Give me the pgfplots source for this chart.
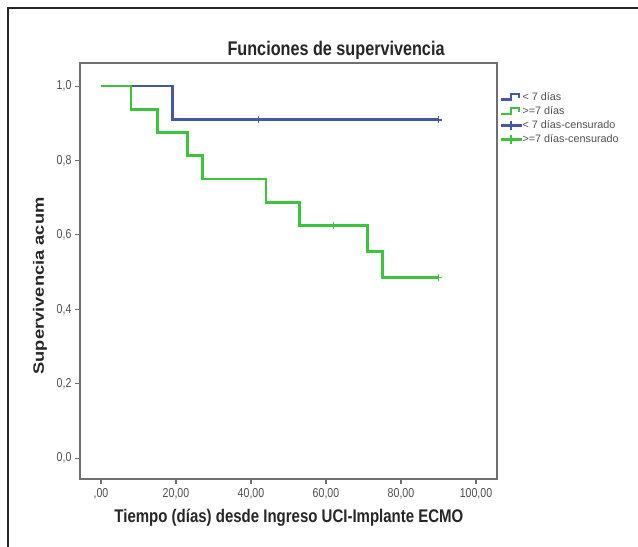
\documentclass[border=0pt]{standalone}
\usepackage{fontspec}
\setmainfont{Liberation Sans}
\usepackage{pgfplots}
\pgfplotsset{compat=1.18}

\definecolor{kmblue}{RGB}{68,88,168}
\definecolor{kmgreen}{RGB}{60,196,60}
\definecolor{axgray}{RGB}{112,112,112}
\definecolor{txtgray}{RGB}{80,80,80}

% Kaplan-Meier estimates (time in days, cumulative survival)
\pgfplotstableread{
t    s
0    1.0000
19   0.9091
90   0.9091
}\menosSiete
\pgfplotstableread{
t    s
0    1.0000
8    0.9375
15   0.8750
23   0.8125
27   0.7500
44   0.6875
53   0.6250
71   0.5556
75   0.4861
90   0.4861
}\masSiete
% censored observations
\pgfplotstableread{
t    s
42   0.9091
90   0.9091
}\menosSieteCens
\pgfplotstableread{
t    s
62   0.6250
90   0.4861
}\masSieteCens

\begin{document}
\begin{tikzpicture}
\useasboundingbox (0bp,0bp) rectangle (638bp,547bp);
\draw[line width=2bp, black!85] (8bp,-20bp) -- (8bp,539bp) -- (660bp,539bp);
\begin{axis}[
  at={(80bp,68bp)}, anchor=south west,
  scale only axis, width=417bp, height=416bp,
  xmin=-5.6, xmax=105.6, ymin=-0.056, ymax=1.062,
  axis line style={axgray, line width=1.4bp},
  tick align=outside, tick pos=left,
  major tick length=5bp,
  tick style={axgray, line width=1.1bp},
  xtick={0,20,40,60,80,100},
  xticklabels={{,00},{20,00},{40,00},{60,00},{80,00},{100,00}},
  ytick={0,0.2,0.4,0.6,0.8,1},
  yticklabels={{0,0},{0,2},{0,4},{0,6},{0,8},{1,0}},
  ticklabel style={font=\fontsize{10.6bp}{12bp}\selectfont, text=txtgray, yscale=1.22},
  title={Funciones de supervivencia},
  title style={at={(0.614,1.016)}, anchor=center,
    font=\bfseries\fontsize{16.2bp}{18bp}\selectfont, text=black!85, yscale=1.22},
  xlabel={Tiempo (días) desde Ingreso UCI-Implante ECMO},
  xlabel style={at={(0.501,-0.094)}, anchor=center,
    font=\bfseries\fontsize{15bp}{17bp}\selectfont, text=black!85, yscale=1.22},
  ylabel={Supervivencia acum},
  ylabel style={at={(-0.096,0.464)}, anchor=center,
    font=\bfseries\fontsize{15bp}{17bp}\selectfont, text=black!85, xscale=1.22},
  legend cell align=left,
  legend style={at={(1.007,0.932)}, anchor=north west, draw=none, fill=none,
    font=\fontsize{10.8bp}{12bp}\selectfont,
    inner sep=0pt, row sep=3bp,
    nodes={inner sep=0.6bp, text height=8bp, text depth=2bp}},
]
\addplot[const plot, kmblue, line width=2.8bp,
  legend image code/.code={\draw[kmblue, line width=2.3bp]
    (0bp,-2.5bp) -- (10bp,-2.5bp) -- (10bp,3bp) -- (18bp,3bp) -- (18bp,-1bp);}]
  table[x=t, y=s] {\menosSiete};
\addlegendentry{\textcolor{txtgray}{< 7 días}}
\addplot[const plot, kmgreen, line width=2.8bp,
  legend image code/.code={\draw[kmgreen, line width=2.3bp]
    (0bp,-2.5bp) -- (10bp,-2.5bp) -- (10bp,3bp) -- (18bp,3bp) -- (18bp,-1bp);}]
  table[x=t, y=s] {\masSiete};
\addlegendentry{\textcolor{txtgray}{>=7 días}}
\addplot[only marks, mark=+, mark size=3.5bp, kmblue, line width=1.5bp,
  legend image code/.code={\fill[kmblue]
    (0bp,-0.45bp) rectangle (20bp,0.45bp) (9.55bp,-4bp) rectangle (10.45bp,4bp);}]
  table[x=t, y=s] {\menosSieteCens};
\addlegendentry{\textcolor{txtgray}{< 7 días-censurado}}
\addplot[only marks, mark=+, mark size=3.5bp, kmgreen, line width=1.5bp,
  legend image code/.code={\fill[kmgreen]
    (0bp,-0.45bp) rectangle (20bp,0.45bp) (9.55bp,-4bp) rectangle (10.45bp,4bp);}]
  table[x=t, y=s] {\masSieteCens};
\addlegendentry{\textcolor{txtgray}{>=7 días-censurado}}
\end{axis}
\end{tikzpicture}
\end{document}
